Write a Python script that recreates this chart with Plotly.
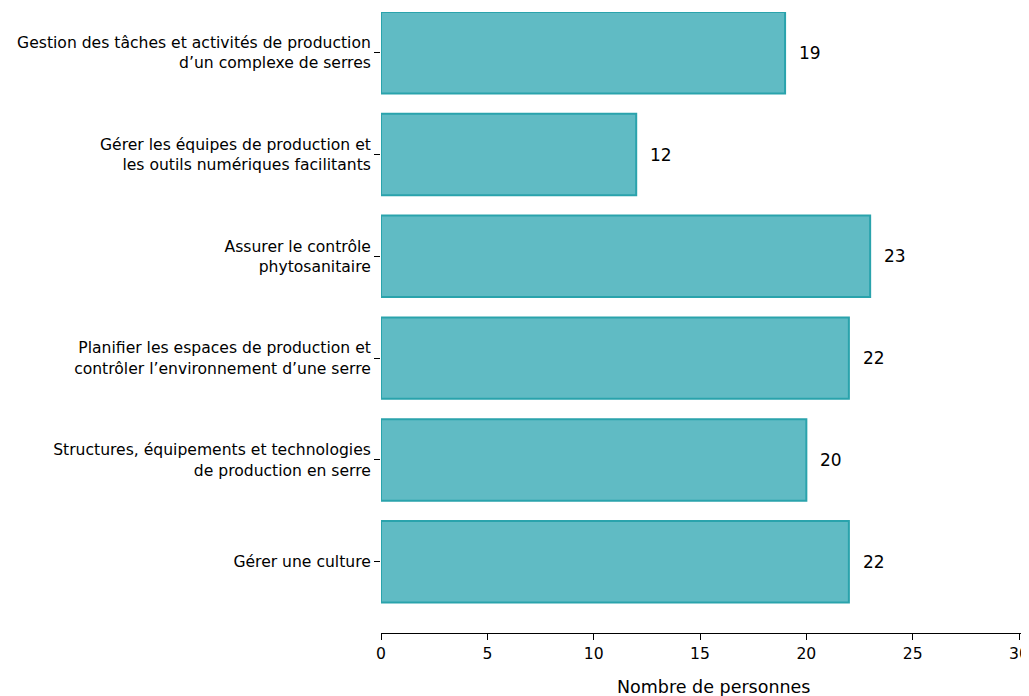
import plotly.graph_objects as go

categories = [
    "Gérer une culture",
    "Structures, équipements et technologies<br>de production en serre",
    "Planifier les espaces de production et<br>contrôler l’environnement d’une serre",
    "Assurer le contrôle<br>phytosanitaire",
    "Gérer les équipes de production et<br>les outils numériques facilitants",
    "Gestion des tâches et activités de production<br>d’un complexe de serres",
]
values = [22, 20, 22, 23, 12, 19]
x_ticks = [0, 5, 10, 15, 20, 25, 30]

fig = go.Figure()
fig.add_trace(go.Bar(
    y=list(range(len(categories))),
    x=values,
    orientation="h",
    width=0.8,
    marker=dict(color="#60bbc4", line=dict(color="#2aa3ac", width=2)),
    hoverinfo="skip",
))

for i, v in enumerate(values):
    fig.add_annotation(x=v, y=i, text=str(v), showarrow=False,
                       xanchor="left", xshift=12,
                       font=dict(family="DejaVu Sans", size=17, color="black"))

fig.add_annotation(x=0.5156, y=-0.087, xref="paper", yref="paper",
                   text="Nombre de personnes", showarrow=False,
                   xanchor="center", yanchor="middle",
                   font=dict(family="DejaVu Sans", size=17.5, color="black"))

fig.update_layout(
    width=1021, height=688,
    margin=dict(l=373, r=0, t=4, b=63),
    plot_bgcolor="white", paper_bgcolor="white",
    showlegend=False,
    font=dict(family="DejaVu Sans", size=15.6, color="black"),
    bargap=0.2,
)
fig.update_xaxes(
    range=[0, 30.375], tickvals=x_ticks, ticktext=[str(t) for t in x_ticks],
    showgrid=False, zeroline=False,
    showline=True, linecolor="black", linewidth=1.2,
    ticks="outside", ticklen=6, tickcolor="black",
    tickfont=dict(size=15.6),
    ticklabeloverflow="allow",
)
fig.update_yaxes(
    range=[-0.7, 5.4],
    tickvals=list(range(len(categories))), ticktext=categories,
    showgrid=False, zeroline=False, showline=False,
    ticks="outside", ticklen=6, tickcolor="black",
    tickfont=dict(size=15.6),
)

fig.write_html("out.html")
